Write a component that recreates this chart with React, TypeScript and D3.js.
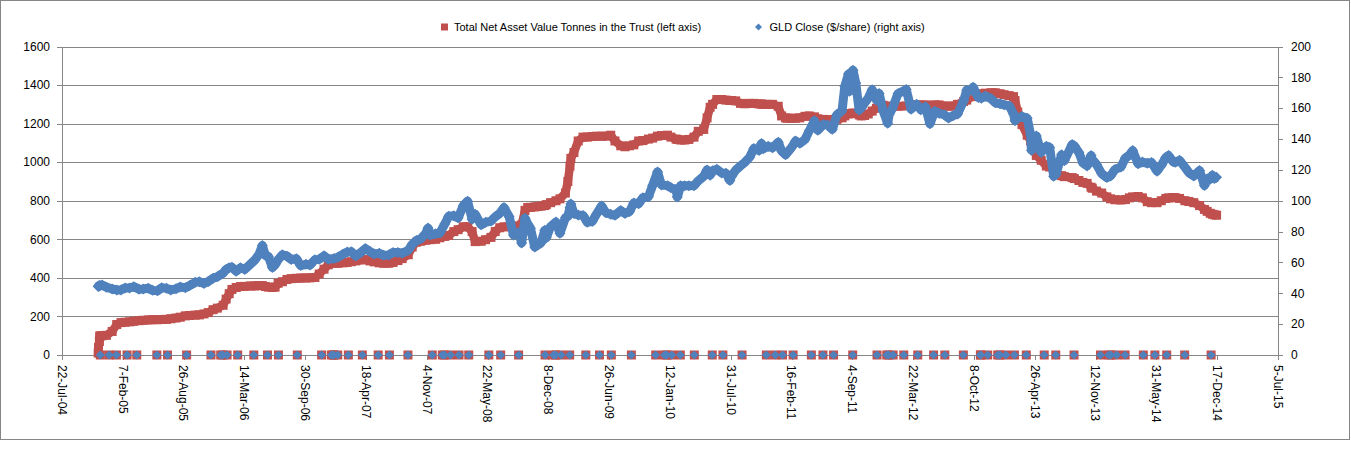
import React, { useEffect, useRef } from 'react';
import * as d3 from 'd3';

// axis labels
const xTickLabels = [
  '22-Jul-04', '7-Feb-05', '26-Aug-05', '14-Mar-06', '30-Sep-06', '18-Apr-07', '4-Nov-07',
  '22-May-08', '8-Dec-08', '26-Jun-09', '12-Jan-10', '31-Jul-10', '16-Feb-11', '4-Sep-11',
  '22-Mar-12', '8-Oct-12', '26-Apr-13', '12-Nov-13', '31-May-14', '17-Dec-14', '5-Jul-15',
];
const leftTicks = [0, 200, 400, 600, 800, 1000, 1200, 1400, 1600];
const rightTicks = [0, 20, 40, 60, 80, 100, 120, 140, 160, 180, 200];

const seriesNames = [
  'Total Net Asset Value Tonnes in the Trust (left axis)',
  'GLD Close ($/share) (right axis)',
];

// trading days (~twice a month)
const dates = [
  '2004-11-18', '2004-11-19', '2004-11-22', '2004-11-23', '2004-11-24', '2004-12-01', '2004-12-15',
  '2005-01-03', '2005-01-18', '2005-02-01', '2005-02-15', '2005-03-01', '2005-03-15', '2005-04-01', '2005-04-15',
  '2005-05-02', '2005-05-16', '2005-06-01', '2005-06-15', '2005-07-01', '2005-07-15', '2005-08-01', '2005-08-15',
  '2005-09-01', '2005-09-15', '2005-10-03', '2005-10-17', '2005-11-01', '2005-11-15', '2005-12-01', '2005-12-15',
  '2006-01-03', '2006-01-13', '2006-01-23', '2006-02-01', '2006-02-15', '2006-03-01', '2006-03-15', '2006-04-03',
  '2006-04-17', '2006-05-01', '2006-05-12', '2006-05-22', '2006-06-01', '2006-06-14', '2006-06-23', '2006-07-03',
  '2006-07-17', '2006-08-01', '2006-08-15', '2006-09-01', '2006-09-15', '2006-10-02', '2006-10-16', '2006-11-01',
  '2006-11-15', '2006-12-01', '2006-12-15',
  '2007-01-03', '2007-01-16', '2007-02-01', '2007-02-15', '2007-03-01', '2007-03-15', '2007-04-02', '2007-04-16',
  '2007-05-01', '2007-05-15', '2007-06-01', '2007-06-15', '2007-07-02', '2007-07-16', '2007-08-01', '2007-08-15',
  '2007-09-04', '2007-09-17', '2007-10-01', '2007-10-15', '2007-11-01', '2007-11-08', '2007-11-15', '2007-12-03',
  '2007-12-17',
  '2008-01-02', '2008-01-15', '2008-02-01', '2008-02-15', '2008-03-03', '2008-03-17', '2008-04-01', '2008-04-11',
  '2008-05-01', '2008-05-15', '2008-06-02', '2008-06-16', '2008-07-01', '2008-07-15', '2008-08-01', '2008-08-15',
  '2008-09-02', '2008-09-11', '2008-09-22', '2008-10-01', '2008-10-10', '2008-10-24', '2008-11-03', '2008-11-14',
  '2008-11-26', '2008-12-01', '2008-12-15',
  '2009-01-02', '2009-01-15', '2009-02-02', '2009-02-10', '2009-02-17', '2009-02-20', '2009-03-02', '2009-03-16',
  '2009-04-01', '2009-04-15', '2009-05-01', '2009-05-15', '2009-06-01', '2009-06-15', '2009-07-01', '2009-07-15',
  '2009-08-03', '2009-08-17', '2009-09-01', '2009-09-15', '2009-10-01', '2009-10-15', '2009-11-02', '2009-11-16',
  '2009-12-02', '2009-12-15',
  '2010-01-04', '2010-01-15', '2010-02-01', '2010-02-05', '2010-02-16', '2010-03-01', '2010-03-15', '2010-04-01',
  '2010-04-15', '2010-05-03', '2010-05-14', '2010-05-24', '2010-06-01', '2010-06-15', '2010-07-01', '2010-07-15',
  '2010-07-28', '2010-08-02', '2010-08-16', '2010-09-01', '2010-09-15', '2010-10-01', '2010-10-15', '2010-11-01',
  '2010-11-09', '2010-11-15', '2010-12-01', '2010-12-15',
  '2011-01-03', '2011-01-14', '2011-01-27', '2011-02-01', '2011-02-15', '2011-03-01', '2011-03-15', '2011-04-01',
  '2011-04-15', '2011-05-02', '2011-05-13', '2011-06-01', '2011-06-15', '2011-06-30', '2011-07-15', '2011-08-01',
  '2011-08-10', '2011-08-22', '2011-08-25', '2011-09-06', '2011-09-15', '2011-09-26', '2011-10-03', '2011-10-14',
  '2011-10-26', '2011-11-08', '2011-11-22', '2011-12-01', '2011-12-14', '2011-12-29',
  '2012-01-03', '2012-01-13', '2012-02-01', '2012-02-28', '2012-03-15', '2012-04-02', '2012-04-16', '2012-05-01',
  '2012-05-16', '2012-06-01', '2012-06-15', '2012-07-02', '2012-07-16', '2012-08-01', '2012-08-15', '2012-09-04',
  '2012-09-14', '2012-10-01', '2012-10-05', '2012-10-22', '2012-11-01', '2012-11-15', '2012-12-03', '2012-12-17',
  '2013-01-02', '2013-01-15', '2013-02-01', '2013-02-15', '2013-02-20', '2013-03-01', '2013-03-15', '2013-04-01',
  '2013-04-12', '2013-04-15', '2013-04-25', '2013-05-01', '2013-05-17', '2013-06-03', '2013-06-14', '2013-06-27',
  '2013-07-05', '2013-07-23', '2013-08-01', '2013-08-27', '2013-09-03', '2013-09-18', '2013-10-01', '2013-10-15',
  '2013-10-28', '2013-11-01', '2013-11-15', '2013-12-02', '2013-12-19', '2013-12-31',
  '2014-01-15', '2014-02-03', '2014-02-18', '2014-03-03', '2014-03-14', '2014-04-01', '2014-04-15', '2014-05-01',
  '2014-05-15', '2014-06-02', '2014-06-16', '2014-07-01', '2014-07-10', '2014-07-25', '2014-08-01', '2014-08-15',
  '2014-09-02', '2014-09-15', '2014-10-01', '2014-10-20', '2014-11-05', '2014-11-14', '2014-11-24', '2014-12-01',
  '2014-12-08', '2014-12-15',
];

const tonnes = [
  10, 40, 70, 95, 100, 100, 102,
  122, 158, 168, 170, 172, 175, 178, 180,
  182, 183, 183, 184, 185, 188, 192, 196,
  203, 205, 207, 208, 213, 220, 235, 243,
  258, 290, 318, 340, 350, 355, 356, 358,
  358, 360, 360, 355, 352, 350, 352, 372,
  380, 392, 396, 398, 399, 400, 400, 402,
  420, 445, 468,
  476, 476, 478, 480, 484, 488, 493, 495,
  488, 483, 478, 476, 476, 480, 490, 500,
  520, 560, 585, 590, 595, 600, 598, 600,
  608,
  615, 620, 640, 650, 665, 665, 640, 588,
  590, 598, 610, 640, 660, 665, 665, 662,
  670, 675, 750, 765, 766, 768, 770, 772,
  775, 780, 790,
  800, 810, 840, 900, 980, 1020, 1050, 1110,
  1130, 1130, 1133, 1135, 1135, 1135, 1140, 1110,
  1085, 1080, 1085, 1090, 1110, 1112, 1120, 1125,
  1135, 1138,
  1140, 1130, 1120, 1118, 1115, 1115, 1118, 1130,
  1160, 1170, 1230, 1285, 1300, 1325, 1325, 1322,
  1320, 1320, 1318, 1305, 1303, 1305, 1305, 1302,
  1302, 1300, 1300, 1300,
  1290, 1240, 1230, 1228, 1228, 1228, 1230, 1238,
  1240, 1235, 1225, 1222, 1220, 1220, 1222, 1230,
  1240, 1250, 1252, 1255, 1253, 1245, 1240, 1242,
  1250, 1265, 1280, 1300, 1295, 1290,
  1290, 1290, 1290, 1292, 1296, 1297, 1297, 1297,
  1295, 1297, 1297, 1292, 1290, 1292, 1300, 1315,
  1322, 1340, 1345, 1350, 1355, 1358, 1360, 1360,
  1355, 1350, 1345, 1340, 1320, 1260, 1195, 1140,
  1110, 1095, 1060, 1035, 1010, 980, 975, 960,
  945, 930, 925, 920, 915, 905, 895, 890,
  870, 865, 850, 840, 820, 810,
  805, 804, 806, 815, 820, 822, 815, 795,
  790, 790, 800, 812, 815, 816, 816, 812,
  800, 796, 790, 775, 755, 745, 735, 730,
  727, 725,
];

const gldClose = [
  44.4, 44.8, 44.9, 44.8, 45.0, 45.4, 44.0,
  42.8, 42.2, 42.2, 43.5, 43.4, 44.3, 42.7, 42.8,
  43.3, 41.9, 41.6, 43.6, 43.2, 42.2, 42.9, 44.1,
  43.6, 45.0, 47.1, 47.5, 46.4, 47.6, 49.8, 50.7,
  53.1, 55.5, 56.6, 56.9, 54.3, 56.5, 55.5, 58.9,
  61.5, 65.3, 71.0, 64.5, 63.9, 56.7, 58.5, 61.8,
  65.0, 64.1, 61.9, 62.4, 58.0, 58.8, 58.3, 61.8,
  62.0, 64.3, 62.1,
  62.5, 63.4, 65.3, 66.7, 66.9, 64.2, 66.6, 69.0,
  67.1, 65.4, 66.0, 64.6, 64.9, 66.5, 66.5, 66.0,
  67.9, 71.7, 74.2, 75.3, 78.9, 82.3, 77.8, 78.6,
  79.1,
  84.9, 89.9, 90.3, 88.9, 96.8, 99.7, 88.0, 91.3,
  84.4, 86.0, 86.8, 89.6, 91.8, 95.6, 89.7, 77.8,
  79.4, 72.6, 88.7, 85.0, 82.2, 70.0, 71.3, 72.8,
  80.8, 76.0, 83.2,
  86.2, 79.0, 89.0, 89.9, 95.6, 97.9, 91.7, 90.8,
  90.5, 86.0, 86.6, 91.3, 96.6, 92.3, 91.2, 90.6,
  93.6, 91.8, 93.0, 98.5, 98.1, 102.0, 102.6, 110.0,
  118.7, 110.2,
  109.8, 108.5, 107.3, 102.4, 109.7, 109.8, 109.7, 109.8,
  112.9, 115.9, 120.0, 116.6, 119.5, 120.4, 118.0, 117.9,
  113.1, 115.8, 119.8, 122.6, 124.9, 128.2, 133.9, 132.6,
  137.1, 133.7, 135.3, 134.3,
  138.0, 132.3, 129.8, 131.0, 134.3, 138.7, 137.2, 139.7,
  145.3, 151.8, 145.7, 149.5, 149.0, 146.3, 155.7, 158.4,
  174.2, 182.1, 171.0, 184.6, 176.4, 158.8, 160.2, 163.4,
  166.5, 172.0, 165.3, 169.6, 158.4, 150.3,
  156.0, 159.6, 169.4, 172.2, 159.4, 162.5, 159.0, 161.0,
  149.9, 158.1, 156.7, 155.8, 153.7, 155.3, 156.3, 164.8,
  171.7, 171.5, 173.6, 167.0, 166.5, 167.9, 166.1, 163.5,
  162.9, 162.2, 161.5, 156.3, 151.9, 153.7, 154.7, 153.5,
  143.0, 132.8, 141.0, 142.0, 131.3, 135.3, 134.5, 115.9,
  117.4, 129.8, 126.0, 136.4, 135.6, 131.3, 124.6, 122.6,
  129.3, 126.8, 123.5, 117.6, 115.0, 116.1,
  120.3, 121.8, 127.7, 129.5, 132.5, 124.0, 125.1, 124.3,
  124.8, 119.2, 122.9, 128.1, 129.3, 125.3, 124.9, 126.2,
  121.7, 118.2, 116.1, 119.6, 109.9, 114.3, 114.0, 116.5,
  114.4, 115.2,
];

// exchange holidays: both series recorded as 0 on these days
const closedDates = [
  '2004-11-25', '2004-12-24',
  '2005-01-17', '2005-02-21', '2005-03-25', '2005-05-30', '2005-07-04', '2005-09-05', '2005-11-24', '2005-12-26',
  '2006-01-02', '2006-01-16', '2006-02-20', '2006-04-14', '2006-05-29', '2006-07-04', '2006-09-04', '2006-11-23',
  '2006-12-25',
  '2007-01-01', '2007-01-02', '2007-01-15', '2007-02-19', '2007-04-06', '2007-05-28', '2007-07-04', '2007-09-03',
  '2007-11-22', '2007-12-25',
  '2008-01-01', '2008-01-21', '2008-02-18', '2008-03-21', '2008-05-26', '2008-07-04', '2008-09-01', '2008-11-27',
  '2008-12-25',
  '2009-01-01', '2009-01-19', '2009-02-16', '2009-04-10', '2009-05-25', '2009-07-03', '2009-09-07', '2009-11-26',
  '2009-12-25',
  '2010-01-01', '2010-01-18', '2010-02-15', '2010-04-02', '2010-05-31', '2010-07-05', '2010-09-06', '2010-11-25',
  '2010-12-24',
  '2011-01-17', '2011-02-21', '2011-04-22', '2011-05-30', '2011-07-04', '2011-09-05', '2011-11-24', '2011-12-26',
  '2012-01-02', '2012-01-16', '2012-02-20', '2012-04-06', '2012-05-28', '2012-07-04', '2012-09-03', '2012-10-29',
  '2012-10-30', '2012-11-22', '2012-12-25',
  '2013-01-01', '2013-01-21', '2013-02-18', '2013-03-29', '2013-05-27', '2013-07-04', '2013-09-02', '2013-11-28',
  '2013-12-25',
  '2014-01-01', '2014-01-20', '2014-02-17', '2014-04-18', '2014-05-26', '2014-07-04', '2014-09-01', '2014-11-27',
];

const RED = '#C0504D';
const BLUE = '#4F81BD';
const AXIS = '#868686';
const FONT = "'Liberation Sans', Arial, sans-serif";

const parseDay = d3.timeParse('%Y-%m-%d');
const parseTick = d3.timeParse('%d-%b-%y');

const App: React.FC = () => {
  const svgRef = useRef<SVGSVGElement>(null);

  useEffect(() => {
    if (!svgRef.current) return;
    const svg = d3.select(svgRef.current);
    svg.selectAll('*').remove();

    const width = 1351;
    const height = 460;
    const plot = { left: 62, right: 1278, top: 46.5, bottom: 355 };

    const tickDates = xTickLabels.map(t => parseTick(t) as Date);
    const x = d3.scaleTime()
      .domain([tickDates[0], tickDates[tickDates.length - 1]])
      .range([plot.left, plot.right]);
    const yLeft = d3.scaleLinear().domain([0, 1600]).range([plot.bottom, plot.top]);
    const yRight = d3.scaleLinear().domain([0, 200]).range([plot.bottom, plot.top]);
    const crisp = (v: number) => Math.round(v) + 0.5;

    const n = Math.min(dates.length, tonnes.length, gldClose.length);
    const points = d3.range(n).map(i => ({
      date: parseDay(dates[i]) as Date,
      tonnes: tonnes[i],
      gld: gldClose[i],
    }));
    const zeros = closedDates.map(d => parseDay(d) as Date);

    svg.attr('width', width).attr('height', height);

    // chart border
    svg.append('rect')
      .attr('x', 0.5).attr('y', 0.5)
      .attr('width', 1349).attr('height', 439)
      .attr('fill', '#fff')
      .attr('stroke', AXIS);

    // gridlines
    svg.append('g')
      .selectAll('line')
      .data(leftTicks.filter(t => t > 0))
      .enter()
      .append('line')
      .attr('x1', plot.left).attr('x2', plot.right)
      .attr('y1', d => crisp(yLeft(d))).attr('y2', d => crisp(yLeft(d)))
      .attr('stroke', AXIS);

    // axis lines
    const axes = svg.append('g').attr('stroke', AXIS).attr('shape-rendering', 'crispEdges');
    axes.append('line')
      .attr('x1', crisp(plot.left)).attr('x2', crisp(plot.left))
      .attr('y1', plot.top).attr('y2', plot.bottom);
    axes.append('line')
      .attr('x1', crisp(plot.right)).attr('x2', crisp(plot.right))
      .attr('y1', plot.top).attr('y2', plot.bottom);
    axes.append('line')
      .attr('x1', plot.left).attr('x2', plot.right)
      .attr('y1', crisp(yLeft(0))).attr('y2', crisp(yLeft(0)));
    axes.selectAll('.tl')
      .data(leftTicks)
      .enter()
      .append('line')
      .attr('x1', plot.left - 5).attr('x2', plot.left)
      .attr('y1', d => crisp(yLeft(d))).attr('y2', d => crisp(yLeft(d)));
    axes.selectAll('.tr')
      .data(rightTicks)
      .enter()
      .append('line')
      .attr('x1', plot.right).attr('x2', plot.right + 5)
      .attr('y1', d => crisp(yRight(d))).attr('y2', d => crisp(yRight(d)));
    axes.selectAll('.tx')
      .data(tickDates)
      .enter()
      .append('line')
      .attr('x1', d => crisp(x(d))).attr('x2', d => crisp(x(d)))
      .attr('y1', plot.bottom).attr('y2', plot.bottom + 5);

    // tick labels
    svg.append('g')
      .selectAll('text')
      .data(leftTicks)
      .enter()
      .append('text')
      .attr('x', 50)
      .attr('y', d => yLeft(d))
      .attr('dy', '0.35em')
      .attr('text-anchor', 'end')
      .attr('font-family', FONT)
      .attr('font-size', 12)
      .text(d => d);

    svg.append('g')
      .selectAll('text')
      .data(rightTicks)
      .enter()
      .append('text')
      .attr('x', 1291)
      .attr('y', d => yRight(d))
      .attr('dy', '0.35em')
      .attr('font-family', FONT)
      .attr('font-size', 12)
      .text(d => d);

    svg.append('g')
      .selectAll('text')
      .data(tickDates)
      .enter()
      .append('text')
      .attr('transform', d => `translate(${x(d)},365) rotate(90)`)
      .attr('dy', '0.35em')
      .attr('font-family', FONT)
      .attr('font-size', 12)
      .text((d, i) => xTickLabels[i]);

    // series
    const diamond = (r: number) => `M0,${-r}L${r},0L0,${r}L${-r},0Z`;

    const redLine = d3.line<typeof points[number]>()
      .x(d => x(d.date))
      .y(d => yLeft(d.tonnes));
    const blueLine = d3.line<typeof points[number]>()
      .x(d => x(d.date))
      .y(d => yRight(d.gld));

    const red = svg.append('g');
    red.append('path')
      .attr('d', redLine(points))
      .attr('fill', 'none')
      .attr('stroke', RED)
      .attr('stroke-width', 8.5)
      .attr('stroke-linejoin', 'round');
    red.selectAll('rect.pt')
      .data(points)
      .enter()
      .append('rect')
      .attr('x', d => x(d.date) - 4.5)
      .attr('y', d => yLeft(d.tonnes) - 4.5)
      .attr('width', 9).attr('height', 9)
      .attr('fill', RED);
    red.selectAll('rect.zero')
      .data(zeros)
      .enter()
      .append('rect')
      .attr('x', d => x(d) - 4.5)
      .attr('y', yLeft(0) - 4.5)
      .attr('width', 9).attr('height', 9)
      .attr('fill', RED);

    const blue = svg.append('g');
    blue.append('path')
      .attr('d', blueLine(points))
      .attr('fill', 'none')
      .attr('stroke', BLUE)
      .attr('stroke-width', 9)
      .attr('stroke-linejoin', 'round');
    blue.selectAll('path.pt')
      .data(points)
      .enter()
      .append('path')
      .attr('transform', d => `translate(${x(d.date)},${yRight(d.gld)})`)
      .attr('d', diamond(5.5))
      .attr('fill', BLUE);
    blue.selectAll('path.zero')
      .data(zeros)
      .enter()
      .append('path')
      .attr('transform', d => `translate(${x(d)},${yRight(0)})`)
      .attr('d', diamond(4.5))
      .attr('fill', BLUE);

    // legend
    const legend = svg.append('g').attr('font-family', FONT).attr('font-size', 11);
    legend.append('rect')
      .attr('x', 441).attr('y', 23.5)
      .attr('width', 7).attr('height', 7)
      .attr('fill', RED);
    legend.append('text')
      .attr('x', 454).attr('y', 27)
      .attr('dy', '0.35em')
      .text(seriesNames[0]);
    legend.append('path')
      .attr('transform', 'translate(758.5,27)')
      .attr('d', diamond(3.5))
      .attr('fill', BLUE);
    legend.append('text')
      .attr('x', 769.5).attr('y', 27)
      .attr('dy', '0.35em')
      .text(seriesNames[1]);
  }, []);

  return (
    <svg
      ref={svgRef}
      style={{ position: 'absolute', left: 0, top: 0, background: '#fff' }}
    />
  );
};

export default App;
